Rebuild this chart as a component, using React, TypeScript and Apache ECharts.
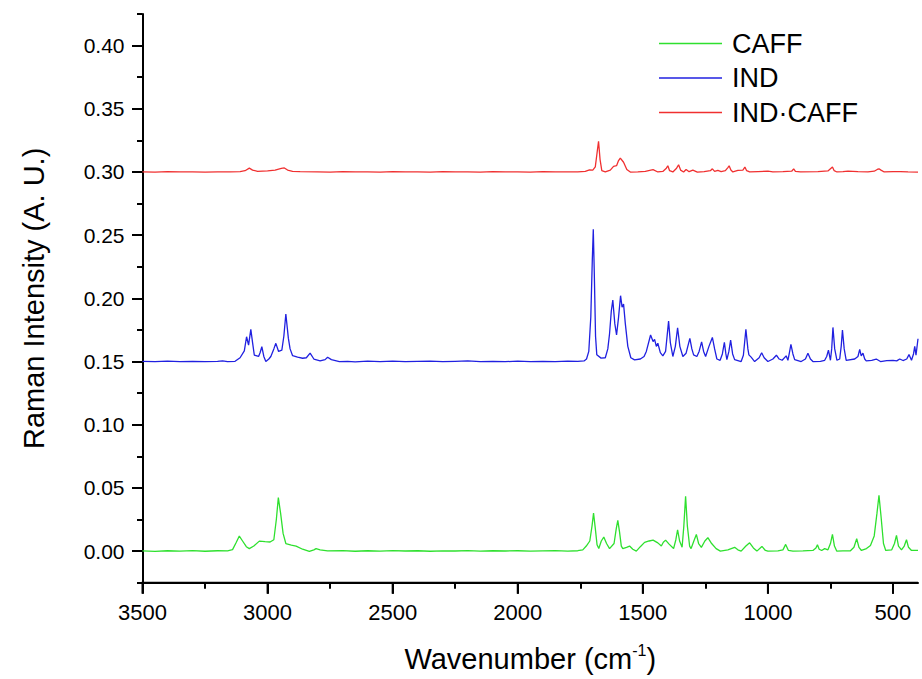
import React, { useEffect, useRef } from "react";
import * as echarts from "echarts";

// ---- Data (wavenumber cm^-1, intensity A.U.) ----
const caff: [number, number][] = [
  [3500,0.0002],[3450,-0.0002],[3400,0.0003],[3350,0.0000],[3300,0.0004],[3250,-0.0001],[3200,0.0003],[3160,0.0002],
  [3140,0.0012],[3125,0.0070],[3113,0.0119],[3100,0.0080],[3085,0.0035],[3073,0.0020],[3055,0.0040],[3033,0.0079],
  [3010,0.0075],[2990,0.0072],[2975,0.0090],[2965,0.0250],[2957,0.0423],[2948,0.0300],[2938,0.0140],[2927,0.0060],
  [2905,0.0048],[2886,0.0040],[2860,0.0015],[2833,-0.0003],[2815,0.0010],[2806,0.0020],[2790,0.0010],[2760,0.0002],
  [2700,0.0004],[2650,-0.0001],[2600,0.0003],[2550,0.0000],[2500,0.0004],[2450,0.0001],[2400,0.0003],[2350,-0.0001],
  [2300,0.0002],[2250,0.0001],[2200,0.0004],[2150,0.0000],[2100,0.0003],[2050,0.0001],[2000,0.0003],[1950,0.0000],
  [1900,0.0002],[1850,0.0004],[1800,0.0000],[1760,0.0003],[1740,0.0010],[1726,0.0040],[1712,0.0080],[1703,0.0200],
  [1697,0.0301],[1690,0.0180],[1683,0.0050],[1676,0.0020],[1666,0.0080],[1656,0.0111],[1645,0.0060],[1633,0.0020],
  [1615,0.0060],[1606,0.0180],[1600,0.0243],[1593,0.0150],[1586,0.0040],[1580,0.0020],[1565,0.0030],[1553,0.0040],
  [1540,0.0015],[1526,0.0000],[1510,0.0035],[1493,0.0069],[1475,0.0080],[1459,0.0087],[1440,0.0065],[1426,0.0040],
  [1418,0.0070],[1409,0.0087],[1395,0.0055],[1377,0.0020],[1368,0.0090],[1361,0.0169],[1353,0.0080],[1343,0.0030],
  [1336,0.0200],[1329,0.0434],[1322,0.0200],[1313,0.0040],[1307,0.0020],[1296,0.0080],[1286,0.0132],[1277,0.0060],
  [1266,0.0030],[1252,0.0080],[1240,0.0106],[1225,0.0060],[1207,0.0020],[1190,0.0000],[1160,0.0010],[1133,0.0030],
  [1120,0.0010],[1107,0.0000],[1088,0.0040],[1073,0.0066],[1058,0.0025],[1044,0.0000],[1024,0.0037],[1010,0.0005],
  [1000,0.0000],[960,0.0002],[940,0.0010],[929,0.0053],[918,0.0005],[900,0.0000],[860,0.0002],[820,0.0005],
  [808,0.0025],[802,0.0050],[795,0.0015],[785,0.0005],[773,0.0020],[760,0.0010],[750,0.0060],[742,0.0132],
  [734,0.0040],[725,0.0000],[700,0.0002],[670,0.0003],[656,0.0030],[645,0.0098],[636,0.0030],[626,0.0005],
  [606,0.0020],[590,0.0045],[575,0.0120],[564,0.0300],[556,0.0442],[548,0.0280],[538,0.0060],[529,0.0005],
  [505,0.0010],[494,0.0060],[486,0.0124],[478,0.0040],[466,0.0010],[455,0.0040],[446,0.0090],[438,0.0030],
  [426,0.0005],[400,0.0005]
];

const ind: [number, number][] = [
  [3500,0.1502],[3450,0.1499],[3400,0.1503],[3350,0.1500],[3300,0.1502],[3250,0.1499],[3200,0.1502],[3180,0.1506],
  [3160,0.1500],[3130,0.1502],[3110,0.1530],[3093,0.1585],[3084,0.1696],[3076,0.1630],[3067,0.1755],[3060,0.1650],
  [3053,0.1550],[3036,0.1540],[3030,0.1570],[3023,0.1617],[3015,0.1540],[3007,0.1500],[2995,0.1520],[2987,0.1540],
  [2975,0.1600],[2967,0.1644],[2956,0.1580],[2943,0.1590],[2935,0.1700],[2927,0.1876],[2917,0.1685],[2910,0.1600],
  [2900,0.1546],[2880,0.1535],[2860,0.1526],[2845,0.1530],[2830,0.1566],[2815,0.1520],[2790,0.1505],[2770,0.1515],
  [2760,0.1534],[2745,0.1515],[2713,0.1500],[2680,0.1502],[2650,0.1498],[2600,0.1503],[2550,0.1500],[2500,0.1503],
  [2450,0.1499],[2400,0.1502],[2350,0.1504],[2300,0.1499],[2250,0.1502],[2200,0.1505],[2150,0.1500],[2100,0.1502],
  [2050,0.1499],[2000,0.1503],[1950,0.1500],[1900,0.1502],[1850,0.1499],[1800,0.1503],[1760,0.1501],[1735,0.1505],
  [1725,0.1520],[1716,0.1580],[1708,0.1850],[1702,0.2300],[1698,0.2547],[1694,0.2200],[1689,0.1700],[1684,0.1553],
  [1667,0.1527],[1650,0.1530],[1640,0.1600],[1633,0.1720],[1626,0.1900],[1620,0.1987],[1612,0.1800],[1605,0.1710],
  [1597,0.1850],[1589,0.2021],[1583,0.1930],[1577,0.1955],[1570,0.1800],[1560,0.1620],[1548,0.1530],[1533,0.1513],
  [1510,0.1520],[1495,0.1540],[1486,0.1580],[1469,0.1710],[1459,0.1658],[1453,0.1676],[1446,0.1620],[1440,0.1645],
  [1430,0.1570],[1420,0.1545],[1409,0.1580],[1403,0.1700],[1397,0.1820],[1390,0.1650],[1380,0.1540],[1370,0.1620],
  [1361,0.1767],[1352,0.1620],[1340,0.1540],[1327,0.1566],[1312,0.1683],[1304,0.1600],[1297,0.1553],[1284,0.1540],
  [1275,0.1580],[1265,0.1656],[1257,0.1580],[1249,0.1540],[1236,0.1618],[1222,0.1691],[1213,0.1600],[1204,0.1520],
  [1191,0.1510],[1182,0.1560],[1174,0.1652],[1168,0.1560],[1164,0.1515],[1156,0.1580],[1149,0.1670],[1141,0.1560],
  [1133,0.1515],[1107,0.1500],[1098,0.1550],[1088,0.1755],[1080,0.1600],[1076,0.1553],[1067,0.1535],[1053,0.1500],
  [1035,0.1530],[1025,0.1570],[1015,0.1530],[1000,0.1500],[980,0.1520],[966,0.1550],[955,0.1520],[943,0.1510],
  [927,0.1545],[920,0.1510],[914,0.1570],[908,0.1636],[900,0.1560],[893,0.1515],[867,0.1500],[850,0.1520],
  [840,0.1566],[830,0.1520],[820,0.1500],[790,0.1502],[773,0.1510],[765,0.1540],[758,0.1590],[750,0.1510],
  [745,0.1600],[740,0.1770],[733,0.1600],[724,0.1510],[713,0.1520],[707,0.1620],[702,0.1750],[695,0.1600],
  [687,0.1510],[653,0.1520],[640,0.1540],[633,0.1597],[627,0.1545],[620,0.1566],[613,0.1520],[607,0.1505],
  [585,0.1510],[567,0.1520],[550,0.1500],[525,0.1508],[500,0.1510],[485,0.1505],[473,0.1520],[460,0.1508],
  [445,0.1520],[436,0.1555],[426,0.1510],[418,0.1560],[413,0.1620],[408,0.1550],[400,0.1680]
];

const indCaff: [number, number][] = [
  [3500,0.3001],[3450,0.2999],[3400,0.3002],[3350,0.3000],[3300,0.3001],[3250,0.2999],[3200,0.3001],[3150,0.3000],
  [3110,0.3003],[3090,0.3010],[3073,0.3030],[3060,0.3015],[3040,0.3005],[3000,0.3008],[2970,0.3015],[2945,0.3028],
  [2933,0.3032],[2920,0.3015],[2900,0.3005],[2870,0.3002],[2800,0.3001],[2750,0.2999],[2700,0.3002],[2650,0.3000],
  [2600,0.3001],[2550,0.2999],[2500,0.3002],[2450,0.3000],[2400,0.3001],[2350,0.2999],[2300,0.3002],[2250,0.3000],
  [2200,0.3001],[2150,0.2999],[2100,0.3002],[2050,0.3000],[2000,0.3001],[1950,0.2999],[1900,0.3002],[1850,0.3000],
  [1800,0.3001],[1760,0.3000],[1730,0.3005],[1713,0.3017],[1700,0.3014],[1690,0.3040],[1683,0.3150],[1677,0.3243],
  [1671,0.3100],[1664,0.3010],[1650,0.3000],[1630,0.3015],[1617,0.3044],[1605,0.3050],[1597,0.3090],[1590,0.3110],
  [1577,0.3077],[1564,0.3020],[1550,0.2999],[1520,0.3000],[1490,0.3005],[1459,0.3018],[1440,0.3000],[1420,0.3004],
  [1406,0.3030],[1400,0.3049],[1393,0.3010],[1380,0.3000],[1365,0.3030],[1357,0.3057],[1349,0.3015],[1337,0.3000],
  [1327,0.3020],[1315,0.3002],[1300,0.3015],[1282,0.2999],[1255,0.3003],[1230,0.3010],[1222,0.3025],[1213,0.3005],
  [1200,0.3012],[1187,0.3002],[1170,0.3010],[1160,0.3035],[1155,0.3049],[1148,0.3015],[1140,0.3000],[1120,0.3012],
  [1100,0.3015],[1092,0.3039],[1085,0.3010],[1073,0.3000],[1040,0.3003],[1000,0.3006],[980,0.3000],[940,0.3002],
  [905,0.3006],[897,0.3025],[890,0.3004],[870,0.3000],[800,0.3002],[760,0.3008],[742,0.3039],[735,0.3010],
  [724,0.3000],[700,0.3002],[680,0.3006],[660,0.3004],[640,0.3002],[600,0.3001],[575,0.3006],[563,0.3020],
  [556,0.3025],[548,0.3015],[535,0.3000],[500,0.3003],[470,0.3002],[440,0.3000],[400,0.2998]
];

const seriesNames = ["CAFF", "IND", "IND·CAFF"];
const xMin = 400;
const xMax = 3500;
const yMin = -0.025;
const yMax = 0.425;
const xMajorTicks = [3500, 3000, 2500, 2000, 1500, 1000, 500];
const xMinorTicks = [3250, 2750, 2250, 1750, 1250, 750];
const yMajorTicks = [0, 0.05, 0.1, 0.15, 0.2, 0.25, 0.3, 0.35, 0.4];
const yMinorTicks = [-0.025, 0.025, 0.075, 0.125, 0.175, 0.225, 0.275, 0.325, 0.375, 0.425];

const FONT = "'Liberation Sans', Arial, sans-serif";

export default function App() {
  const ref = useRef<HTMLDivElement>(null);
  useEffect(() => {
    if (!ref.current) return;
    const chart = echarts.init(ref.current, undefined, { renderer: "svg" });
    const gridBox = { left: 142.5, right: 4, top: 14, bottom: 96.3, containLabel: false, outerBoundsMode: "none" };
    const xRange = { type: "value", min: xMin, max: xMax, inverse: true, position: "bottom", splitLine: { show: false } };
    const yRange = { type: "value", min: yMin, max: yMax, position: "left", splitLine: { show: false } };
    const hiddenY = (gridIndex: number) => ({ ...yRange, gridIndex, axisLine: { show: false, onZero: false }, axisTick: { show: false }, axisLabel: { show: false } });
    chart.setOption({
      animation: false,
      backgroundColor: "#fff",
      grid: [{ ...gridBox }, { ...gridBox }, { ...gridBox }, { ...gridBox }],
      legend: {
        orient: "vertical",
        left: 659,
        top: 30,
        padding: 0,
        icon: "rect",
        itemWidth: 63,
        itemHeight: 1.5,
        itemGap: 7.5,
        data: seriesNames,
        textStyle: { fontSize: 27, fontFamily: FONT, color: "#000", lineHeight: 27, padding: [0, 0, 0, 5] },
      },
      xAxis: [
        { ...xRange, gridIndex: 0, axisLine: { show: false, onZero: false }, axisTick: { show: false }, axisLabel: { show: false } },
        {
          ...xRange,
          gridIndex: 1,
          axisLine: { show: true, onZero: false, lineStyle: { color: "#000", width: 2 } },
          axisTick: { show: true, length: 11, customValues: xMajorTicks, lineStyle: { color: "#000", width: 2 } },
          axisLabel: { show: false },
        },
        {
          ...xRange,
          gridIndex: 2,
          axisLine: { show: false, onZero: false },
          axisTick: { show: true, length: 6, customValues: xMinorTicks, lineStyle: { color: "#000", width: 2 } },
          axisLabel: { show: false },
        },
        {
          ...xRange,
          gridIndex: 3,
          axisLine: { show: false, onZero: false },
          axisTick: { show: false },
          axisLabel: { show: true, customValues: xMajorTicks, margin: 19, fontSize: 22, fontFamily: FONT, color: "#000", formatter: (v: number) => String(v) },
          name: "{a|Wavenumber (cm}{b|-1}{a|)}",
          nameLocation: "middle",
          nameGap: 60,
          nameMoveOverlap: false,
          nameTextStyle: {
            rich: {
              a: { fontSize: 29, fontFamily: FONT, color: "#000", lineHeight: 32 },
              b: { fontSize: 16, fontFamily: FONT, color: "#000", lineHeight: 16, verticalAlign: "top" },
            },
          },
        },
      ],
      yAxis: [
        {
          ...yRange,
          gridIndex: 0,
          axisLine: { show: true, onZero: false, lineStyle: { color: "#000", width: 2 } },
          axisTick: { show: true, length: 10.5, customValues: yMajorTicks, lineStyle: { color: "#000", width: 2 } },
          axisLabel: { customValues: yMajorTicks, margin: 18, fontSize: 21, fontFamily: FONT, color: "#000", formatter: (v: number) => v.toFixed(2) },
          name: "Raman Intensity (A. U.)",
          nameLocation: "middle",
          nameGap: 94,
          nameTextStyle: { fontSize: 29, fontFamily: FONT, color: "#000" },
        },
        {
          ...yRange,
          gridIndex: 1,
          axisLine: { show: false, onZero: false },
          axisTick: { show: true, length: 5.5, customValues: yMinorTicks, lineStyle: { color: "#000", width: 2 } },
          axisLabel: { show: false },
        },
        hiddenY(2),
        hiddenY(3),
      ],
      series: [
        { name: seriesNames[0], type: "line", xAxisIndex: 0, yAxisIndex: 0, data: caff, showSymbol: false, symbol: "none", lineStyle: { color: "#2ee02e", width: 1.3 }, itemStyle: { color: "#2ee02e" } },
        { name: seriesNames[1], type: "line", xAxisIndex: 0, yAxisIndex: 0, data: ind, showSymbol: false, symbol: "none", lineStyle: { color: "#2020e0", width: 1.3 }, itemStyle: { color: "#2020e0" } },
        { name: seriesNames[2], type: "line", xAxisIndex: 0, yAxisIndex: 0, data: indCaff, showSymbol: false, symbol: "none", lineStyle: { color: "#f03030", width: 1.3 }, itemStyle: { color: "#f03030" } },
      ],
    });

    // Bottom axis line and major ticks, positioned through the chart's own scale.
    const px = (x: number, y: number) => chart.convertToPixel({ gridIndex: 0 }, [x, y]) as number[];
    const a = px(xMax, yMin);
    const b = px(xMin, yMin);
    if (a && b && isFinite(a[0]) && isFinite(b[0])) {
      const stroke = { stroke: "#000", lineWidth: 2 };
      const elements: any[] = [
        { type: "line", z: 100, silent: true, shape: { x1: a[0] - 1, y1: a[1], x2: b[0], y2: b[1] }, style: stroke },
      ];
      xMajorTicks.forEach((v) => {
        const p = px(v, yMin);
        elements.push({ type: "line", z: 100, silent: true, shape: { x1: p[0], y1: p[1], x2: p[0], y2: p[1] + 11 }, style: stroke });
      });
      chart.setOption({ graphic: elements });
    }
    return () => chart.dispose();
  }, []);
  return <div ref={ref} style={{ position: "fixed", left: 0, top: 0, width: 922, height: 679, background: "#fff" }} />;
}
